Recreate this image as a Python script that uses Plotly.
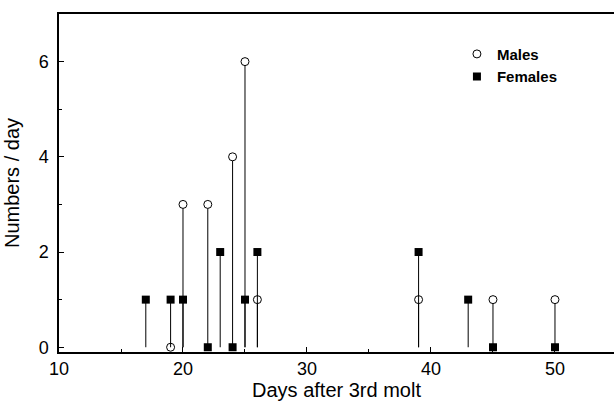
import plotly.graph_objects as go

days_m = [19, 20, 22, 24, 25, 26, 39, 45, 50]
males = [0, 3, 3, 4, 6, 1, 1, 1, 1]
days_f = [17, 19, 20, 22, 23, 24, 25, 26, 39, 43, 45, 50]
females = [1, 1, 1, 0, 2, 0, 1, 2, 2, 1, 0, 0]

FONT = "Liberation Sans, Arial, sans-serif"

fig = go.Figure()
fig.add_trace(go.Scatter(
    x=days_m, y=males, mode="markers", name="Males",
    marker=dict(symbol="circle", size=8, color="white", line=dict(color="black", width=1)),
    error_y=dict(type="data", symmetric=False, array=[0]*len(males), arrayminus=males,
                 width=0, thickness=1, color="black"),
))
fig.add_trace(go.Scatter(
    x=days_f, y=females, mode="markers", name="Females",
    marker=dict(symbol="square", size=8, color="black", line=dict(color="black", width=0)),
    error_y=dict(type="data", symmetric=False, array=[0]*len(females), arrayminus=females,
                 width=0, thickness=1, color="black"),
))

fig.update_layout(
    width=614, height=406,
    margin=dict(l=59, r=0, t=14, b=54, autoexpand=False),
    paper_bgcolor="white", plot_bgcolor="white",
    font=dict(family=FONT, size=18, color="black"),
    legend=dict(x=0.717, y=0.93, xanchor="left", yanchor="top",
                font=dict(family=FONT, size=15, color="black", weight="bold"),
                bgcolor="rgba(0,0,0,0)", itemwidth=30, tracegroupgap=0),
)
fig.update_xaxes(
    range=[10, 54.76], tickvals=[10, 20, 30, 40, 50], ticks="inside", ticklen=5,
    tickwidth=1, tickcolor="black", automargin=False, ticklabelstandoff=0,
    minor=dict(tickvals=[15, 25, 35, 45], ticks="inside", ticklen=3, tickcolor="black"),
    showline=True, linecolor="black", linewidth=1.5, mirror=True,
    showgrid=False, zeroline=False,
    title=dict(text="Days after 3rd molt", font=dict(size=20), standoff=3),
)
fig.update_yaxes(
    range=[-0.1, 7.0], tickvals=[0, 2, 4, 6], ticks="inside", ticklen=5,
    tickwidth=1, tickcolor="black", automargin=False, ticklabelstandoff=5,
    minor=dict(tickvals=[1, 3, 5], ticks="inside", ticklen=3, tickcolor="black"),
    showline=True, linecolor="black", linewidth=1.5, mirror=False,
    showgrid=False, zeroline=False,
    title=dict(text="Numbers / day", font=dict(size=20), standoff=14),
)

fig.write_html("out.html", config={"displayModeBar": False},
               post_script="document.body.style.margin='0';")
